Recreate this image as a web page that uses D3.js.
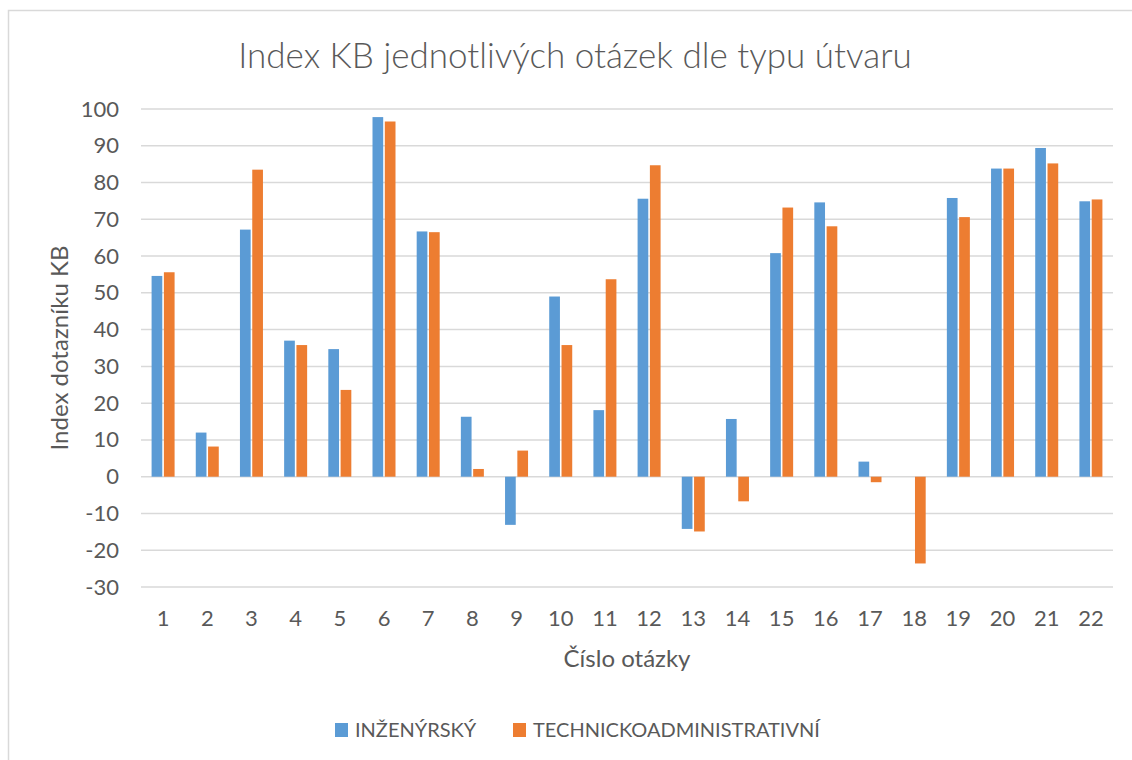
<!DOCTYPE html>
<html>
<head>
<meta charset="utf-8">
<script src="https://cdn.jsdelivr.net/npm/d3@7"></script>
<style>
  body { margin: 0; background: #fff; }
  svg text { font-family: Lato, "Open Sans", sans-serif; fill: #595959; }
</style>
</head>
<body>
<svg width="1132" height="760"></svg>
<script>
const questions = d3.range(1, 23).map(String);
const seriesNames = ["INŽENÝRSKÝ", "TECHNICKOADMINISTRATIVNÍ"];
const inzenyrsky = [54.6, 12.0, 67.2, 37.0, 34.7, 97.8, 66.7, 16.3, -13.1, 49.0, 18.1,
  75.6, -14.2, 15.7, 60.8, 74.6, 4.1, 0, 75.8, 83.8, 89.4, 74.9];
const technicko = [55.6, 8.2, 83.5, 35.8, 23.6, 96.6, 66.5, 2.1, 7.1, 35.8, 53.7,
  84.7, -14.9, -6.7, 73.2, 68.1, -1.5, -23.6, 70.6, 83.8, 85.2, 75.4];
const yTicks = [-30, -20, -10, 0, 10, 20, 30, 40, 50, 60, 70, 80, 90, 100];
const colors = ["#5B9BD5", "#ED7D31"];

const svg = d3.select("svg");
const width = +svg.attr("width");
const height = +svg.attr("height");
const margin = { top: 109, right: 19, bottom: 173, left: 141 };

// chart area border
svg.append("rect")
  .attr("x", 8.5).attr("y", 10.5)
  .attr("width", width + 20).attr("height", height + 20)
  .attr("fill", "none")
  .attr("stroke", "#d9d9d9")
  .attr("stroke-width", 1.5);

const data = questions.map((q, i) => ({ q, values: [inzenyrsky[i], technicko[i]] }));

const x0 = d3.scaleBand()
  .domain(questions)
  .range([margin.left, width - margin.right]);

const groupW = 23;
const x1 = d3.scaleBand()
  .domain([0, 1])
  .range([(x0.bandwidth() - groupW) / 2, (x0.bandwidth() + groupW) / 2])
  .paddingInner(0.13);

const y = d3.scaleLinear()
  .domain([-30, 100])
  .range([height - margin.bottom, margin.top]);

// gridlines
svg.append("g")
  .selectAll("line")
  .data(yTicks)
  .join("line")
  .attr("x1", margin.left)
  .attr("x2", width - margin.right)
  .attr("y1", d => y(d))
  .attr("y2", d => y(d))
  .attr("stroke", "#d9d9d9")
  .attr("stroke-width", 1.5);

// y axis labels (plain hyphen for negatives, like the original)
const yAxis = svg.append("g")
  .attr("transform", `translate(${margin.left - 22},0)`)
  .call(d3.axisLeft(y).tickValues(yTicks).tickFormat(d => String(d)).tickSize(0).tickPadding(0));
yAxis.select(".domain").remove();
yAxis.selectAll("text")
  .attr("font-size", "22px")
  .attr("font-family", null)
  .attr("fill", null);

// bars
svg.append("g")
  .selectAll("g")
  .data(data)
  .join("g")
  .attr("transform", d => `translate(${x0(d.q)},0)`)
  .selectAll("rect")
  .data(d => d.values.map((v, k) => ({ k, v })))
  .join("rect")
  .attr("x", d => x1(d.k))
  .attr("width", x1.bandwidth())
  .attr("y", d => y(Math.max(0, d.v)))
  .attr("height", d => Math.abs(y(d.v) - y(0)))
  .attr("fill", d => colors[d.k]);

// x axis labels
const xAxis = svg.append("g")
  .attr("transform", `translate(0,${y(-30) + 31})`)
  .call(d3.axisBottom(x0).tickSize(0).tickPadding(0));
xAxis.select(".domain").remove();
xAxis.selectAll("text")
  .attr("font-size", "22px")
  .attr("font-family", null)
  .attr("fill", null)
  .attr("dy", "0.35em")
  .attr("y", 0);

// title
svg.append("text")
  .attr("x", 575)
  .attr("y", 68)
  .attr("text-anchor", "middle")
  .attr("font-size", "35px")
  .attr("font-weight", 300)
  .text("Index KB jednotlivých otázek dle typu útvaru");

// axis titles
svg.append("text")
  .attr("x", (margin.left + width - margin.right) / 2)
  .attr("y", 667)
  .attr("text-anchor", "middle")
  .attr("font-size", "24px")
  .text("Číslo otázky");

svg.append("text")
  .attr("transform", `translate(68,${(y(100) + y(-30)) / 2}) rotate(-90)`)
  .attr("text-anchor", "middle")
  .attr("font-size", "24px")
  .text("Index dotazníku KB");

// legend
const legendX = [335, 513];
const legend = svg.append("g")
  .selectAll("g")
  .data(seriesNames)
  .join("g")
  .attr("transform", (d, i) => `translate(${legendX[i]},723)`);

legend.append("rect")
  .attr("width", 13)
  .attr("height", 14)
  .attr("fill", (d, i) => colors[i]);

legend.append("text")
  .attr("x", 20)
  .attr("y", 7)
  .attr("dy", "0.35em")
  .attr("font-size", "20px")
  .text(d => d);
</script>
</body>
</html>
